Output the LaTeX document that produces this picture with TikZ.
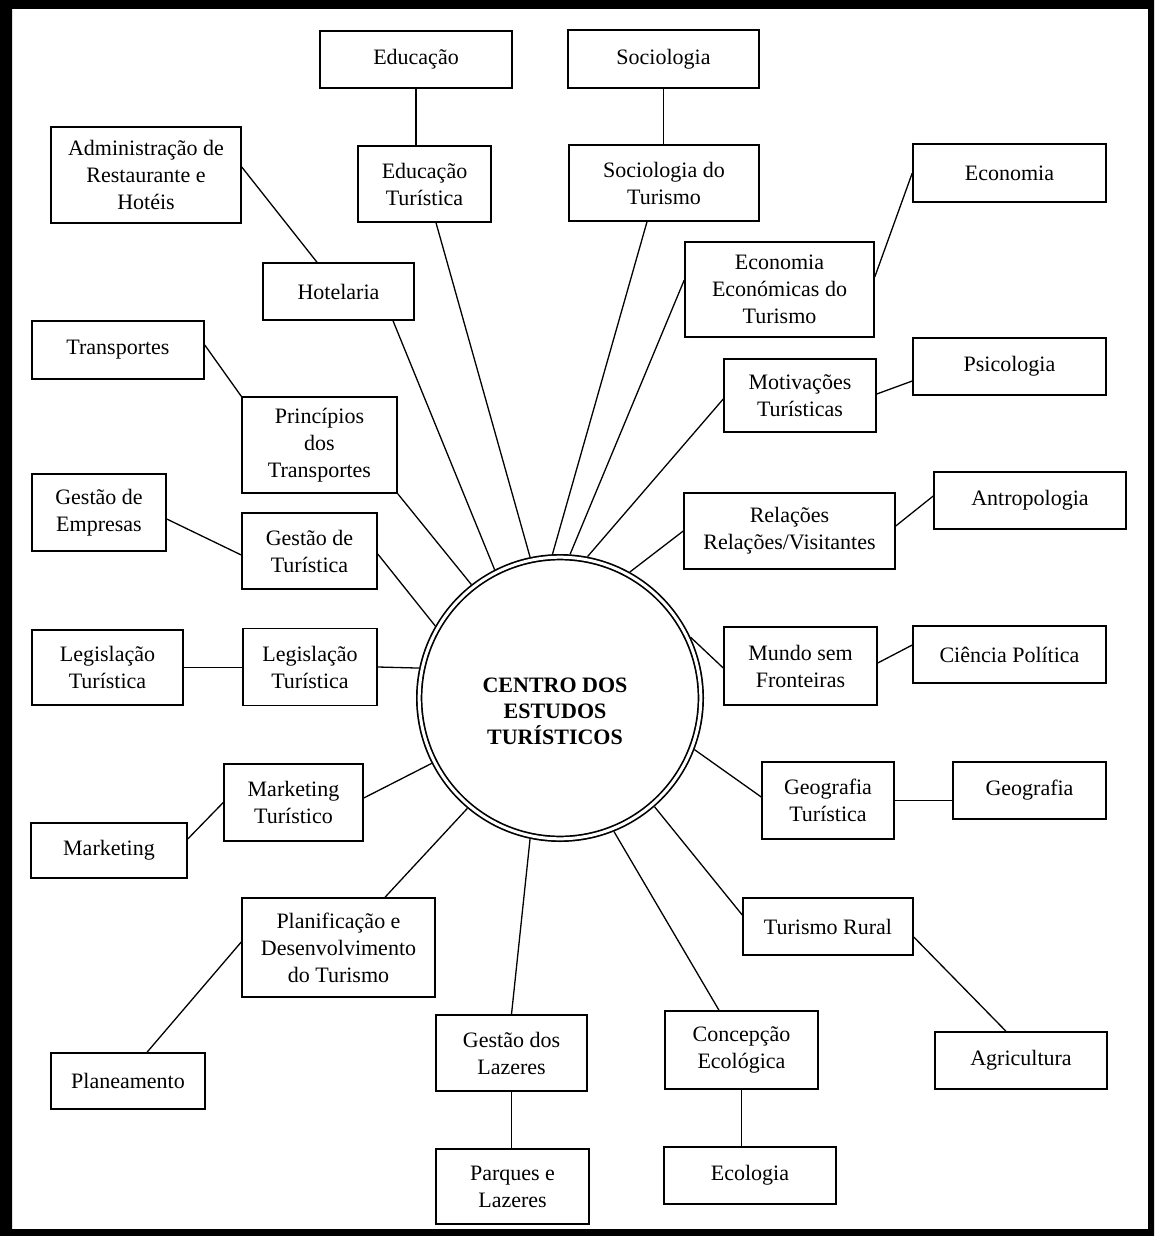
\documentclass[tikz,border=0pt]{standalone}
\usepackage{fontspec}
\setmainfont{Liberation Serif}
\begin{document}
\begin{tikzpicture}[x=1pt,y=-1pt,
  bx/.style={draw, line width=1.5pt, inner sep=0pt, align=center, fill=white,
             font=\fontsize{22}{27}\selectfont},
  ln/.style={line width=1.3pt}]
\useasboundingbox (0,0) rectangle (1154,1236);
\fill[white] (0,0) rectangle (1154,1236);
% frame
\fill[black, even odd rule] (0,0) rectangle (1154,1236) (12,9) rectangle (1148,1229);

% centre
\node[circle, draw, double, double distance=3pt, line width=1.7pt, minimum size=281.6pt,
      inner sep=0pt, outer sep=3.2pt, fill=white] (c) at (560,698) {};
\node[align=center, font=\bfseries\fontsize{22}{26}\selectfont] (ctext) at (555,711)
      {CENTRO DOS\\ESTUDOS\\TURÍSTICOS};

% boxes
\node[bx, minimum width=192pt, minimum height=57pt] (edu) at (416,59.5) {Educação};
\node[bx, minimum width=191pt, minimum height=58pt] (soc) at (663.5,59) {Sociologia};
\node[bx, minimum width=133pt, minimum height=76pt] (edt) at (424.5,184) {Educação\\Turística};
\node[bx, minimum width=190pt, minimum height=76pt] (sdt) at (664,183) {Sociologia do\\Turismo};
\node[bx, minimum width=190pt, minimum height=96pt] (adm) at (146,175) {Administração de\\Restaurante e\\Hotéis};
\node[bx, minimum width=193pt, minimum height=58pt] (eco) at (1009.5,173) {Economia};
\node[bx, minimum width=189pt, minimum height=95pt] (ee) at (779.5,289.5) {Economia\\Económicas do\\Turismo};
\node[bx, minimum width=151pt, minimum height=57pt] (hot) at (338.5,291.5) {Hotelaria};
\node[bx, minimum width=172pt, minimum height=58pt] (tra) at (118,350) {Transportes};
\node[bx, minimum width=155pt, minimum height=96pt] (pri) at (319.5,445) {Princípios\\dos\\Transportes};
\node[bx, minimum width=193pt, minimum height=57pt] (psi) at (1009.5,366.5) {Psicologia};
\node[bx, minimum width=152pt, minimum height=73pt] (mot) at (800,395.5) {Motivações\\Turísticas};
\node[bx, minimum width=134pt, minimum height=77pt] (gem) at (99,512.5) {Gestão de\\Empresas};
\node[bx, minimum width=135pt, minimum height=76pt] (gdt) at (309.5,551) {Gestão de\\Turística};
\node[bx, minimum width=192pt, minimum height=57pt] (ant) at (1030,500.5) {Antropologia};
\node[bx, minimum width=211pt, minimum height=76pt] (rel) at (789.5,531) {Relações\\Relações/Visitantes};
\node[bx, minimum width=151pt, minimum height=75pt] (leg1) at (107.5,667.5) {Legislação\\Turística};
\node[bx, minimum width=134pt, minimum height=77pt] (leg2) at (310,667) {Legislação\\Turística};
\node[bx, minimum width=153pt, minimum height=78pt] (mun) at (800.5,666) {Mundo sem\\Fronteiras};
\node[bx, minimum width=193pt, minimum height=57pt] (cie) at (1009.5,654.5) {Ciência Política};
\node[bx, minimum width=139pt, minimum height=77pt] (mkt) at (293.5,802.5) {Marketing\\Turístico};
\node[bx, minimum width=156pt, minimum height=55pt] (mk) at (109,850.5) {Marketing};
\node[bx, minimum width=132pt, minimum height=77pt] (geot) at (828,800.5) {Geografia\\Turística};
\node[bx, minimum width=153pt, minimum height=57pt] (geo) at (1029.5,790.5) {Geografia};
\node[bx, minimum width=170pt, minimum height=57pt] (tr) at (828,926.5) {Turismo Rural};
\node[bx, minimum width=193pt, minimum height=99pt] (pla) at (338.5,947.5) {Planificação e\\Desenvolvimento\\do Turismo};
\node[bx, minimum width=154pt, minimum height=56pt] (pln) at (128,1081) {Planeamento};
\node[bx, minimum width=151pt, minimum height=76pt] (gdl) at (511.5,1053) {Gestão dos\\Lazeres};
\node[bx, minimum width=172pt, minimum height=57pt] (agr) at (1021,1060.5) {Agricultura};
\node[bx, minimum width=153pt, minimum height=78pt] (ce) at (741.5,1050) {Concepção\\Ecológica};
\node[bx, minimum width=153pt, minimum height=75pt] (par) at (512.5,1186.5) {Parques e\\Lazeres};
\node[bx, minimum width=172pt, minimum height=57pt] (ecl) at (750,1175.5) {Ecologia};

% outer links
\draw[ln] (edu.south) -- (edu.south |- edt.north);
\draw[ln] (soc.south) -- (soc.south |- sdt.north);
\draw[ln] ([yshift=8pt]adm.east) -- ([xshift=-21.5pt]hot.north);
\draw[ln] ([yshift=12.5pt]ee.east) -- (eco.west);
\draw[ln] ([yshift=5pt]tra.east) -- (pri.north west);
\draw[ln] ([yshift=1.5pt]mot.east) -- ([yshift=-14.5pt]psi.west);
\draw[ln] ([yshift=-6.5pt]gem.east) -- ([yshift=-4pt]gdt.west);
\draw[ln] ([yshift=5pt]rel.east) -- ([yshift=4.5pt]ant.west);
\draw[ln] (leg1.east) -- (leg1.east -| leg2.west);
\draw[ln] ([yshift=3pt]mun.east) -- ([yshift=9.5pt]cie.west);
\draw[ln] ([yshift=11.5pt]mk.east) -- (mkt.west);
\draw[ln] (geot.east) -- (geot.east -| geo.west);
\draw[ln] ([yshift=-10.5pt]tr.east) -- ([xshift=-15pt]agr.north);
\draw[ln] ([yshift=5.5pt]pla.west) -- ([xshift=19pt]pln.north);
\draw[ln] (gdl.south) -- (gdl.south |- par.north);
\draw[ln] (ce.south) -- (ce.south |- ecl.north);

% links to centre
\draw[ln] ([yshift=-3pt]gdt.east) -- (c.150.3);
\draw[ln] (pri.south east) -- (c.128.9);
\draw[ln] ([xshift=54.5pt]hot.south) -- (c.117.3);
\draw[ln] ([xshift=11.5pt]edt.south) -- (c.102.4);
\draw[ln] ([xshift=-17pt]sdt.south) -- (c.93.9);
\draw[ln] ([yshift=9.5pt]ee.west) -- (c.86.1);
\draw[ln] ([yshift=-3.5pt]mot.west) -- (c.79.5);
\draw[ln] (rel.west) -- (c.61.9);
\draw[ln] ([yshift=-2pt]mun.west) -- (c.25.2);
\draw[ln] ([yshift=3.5pt]geot.west) -- (c.-21.1);
\draw[ln] ([yshift=11.5pt]tr.west) -- (c.-49.5);
\draw[ln] ([xshift=-22.5pt]ce.north) -- (c.-68.6);
\draw[ln] (gdl.north) -- (c.-102.9);
\draw[ln] ([xshift=46.5pt]pla.north) -- (c.-130.5);
\draw[ln] ([yshift=4.5pt]mkt.east) -- (c.-153.1);
\draw[ln] (leg2.east) -- (c.168.6);
\end{tikzpicture}
\end{document}
